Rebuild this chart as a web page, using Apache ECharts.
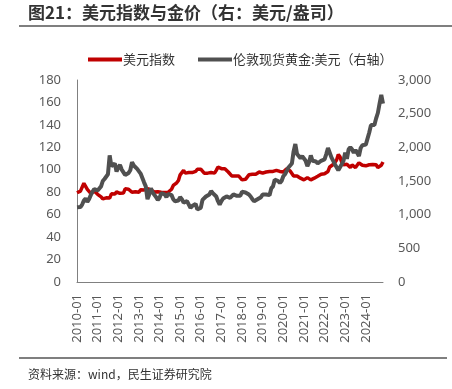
<!DOCTYPE html>
<html><head><meta charset="utf-8">
<script src="https://cdn.jsdelivr.net/npm/echarts@6/dist/echarts.min.js"></script>
<style>html,body{margin:0;padding:0;background:#fff}#c{width:452px;height:389px}</style>
</head><body><div id="c"></div>
<script>
const years = [2010,2011,2012,2013,2014,2015,2016,2017,2018,2019,2020,2021,2022,2023,2024];
const dxy = [
79.5,80.4,81.0,82.5,88.0,86.5,82.5,83.0,79.0,77.5,81.1,79.5,
78.1,76.9,75.9,74.0,75.0,75.0,74.5,74.8,78.6,77.0,78.4,80.2,
79.5,79.0,79.5,79.2,83.0,82.0,82.7,81.5,80.0,80.2,80.5,80.0,
80.0,82.1,83.0,82.0,83.4,83.1,81.8,82.1,80.5,80.2,80.7,80.5,
81.2,80.0,80.1,79.8,80.4,80.0,81.5,82.7,86.0,87.0,88.4,90.5,
95.5,96.5,99.5,97.0,98.5,97.5,98.5,97.5,97.5,98.5,100.5,100.0,
100.5,99.0,97.0,95.5,97.0,97.0,97.5,97.5,97.0,99.5,102.5,103.5,
101.0,102.0,101.0,100.0,98.0,96.5,94.5,94.0,94.5,95.5,94.5,93.5,
91.0,91.5,91.5,93.0,95.5,96.0,96.0,96.5,96.0,97.5,98.0,97.5,
97.0,97.0,98.0,98.5,98.5,97.0,98.5,99.0,99.5,98.0,98.5,97.5,
98.0,99.0,101.0,100.0,99.0,97.5,94.5,93.5,94.5,94.5,92.5,91.0,
91.0,91.0,93.0,92.0,91.0,92.4,92.5,93.0,94.2,94.5,96.0,96.0,
96.5,97.0,98.5,102.5,102.5,104.7,106.5,108.7,113.5,111.5,106.5,104.5,
103.0,104.9,103.5,102.0,104.3,103.0,102.0,103.6,106.2,106.5,104.0,102.5,
103.5,104.2,104.5,106.0,104.8,105.9,104.5,102.0,101.5,104.0,107.0
];
const gold = [
1110,1100,1113,1150,1210,1240,1190,1230,1290,1340,1380,1390,
1360,1380,1420,1500,1530,1520,1600,1880,1720,1700,1760,1640,
1700,1740,1670,1660,1590,1600,1620,1660,1780,1730,1720,1680,
1670,1610,1600,1480,1420,1230,1300,1390,1330,1320,1260,1220,
1250,1320,1330,1300,1260,1310,1310,1290,1230,1200,1180,1210,
1260,1230,1180,1200,1200,1180,1100,1130,1130,1160,1080,1065,
1100,1220,1240,1270,1250,1300,1350,1320,1320,1270,1200,1150,
1200,1240,1240,1270,1260,1250,1260,1300,1300,1280,1280,1280,
1340,1330,1330,1320,1300,1270,1230,1200,1200,1230,1220,1260,
1300,1320,1300,1280,1290,1390,1420,1520,1500,1500,1470,1500,
1570,1600,1590,1700,1720,1760,1940,2050,1900,1900,1840,1870,
1860,1800,1720,1780,1880,1800,1810,1790,1760,1780,1800,1800,
1820,1900,1990,1920,1850,1830,1750,1760,1660,1640,1750,1800,
1920,1830,1970,2000,1970,1920,1960,1920,1870,1990,2030,2050,
2040,2040,2220,2330,2340,2330,2430,2510,2650,2780,2650
];
const months = [];
for (const y of years) for (let m = 1; m <= 12; m++) {
  if (months.length < dxy.length) months.push(y + '-' + String(m).padStart(2,'0'));
}
const leftTicks = [0,20,40,60,80,100,120,140,160,180];
const rightTicks = [0,500,1000,1500,2000,2500,3000];
const chart = echarts.init(document.getElementById('c'));
const lab = '#595959';
chart.setOption({
  animation:false,
  textStyle:{fontFamily:'"Noto Sans CJK SC","Noto Sans",sans-serif'},
  graphic:[
    {type:'text',left:28,top:4,style:{text:'图21：美元指数与金价（右：美元/盎司）',font:'bold 17px "Noto Sans CJK SC"',fill:'#333'}},
    {type:'line',shape:{x1:19,y1:26,x2:452,y2:26},style:{stroke:'#555',lineWidth:1.5}},
    {type:'line',shape:{x1:19,y1:358,x2:447,y2:358},style:{stroke:'#555',lineWidth:1.5}},
    {type:'text',left:28,top:368,style:{text:'资料来源：wind，民生证券研究院',font:'12px "Noto Sans CJK SC"',fill:'#333'}}
  ],
  legend:{top:48,left:83,itemGap:23,itemWidth:34,itemHeight:4,icon:'rect',
    textStyle:{fontSize:13,color:'#333',fontFamily:'"Noto Sans CJK SC"',padding:[0,0,0,-4]},
    data:['美元指数','伦敦现货黄金:美元（右轴）']},
  grid:{left:77,right:69,top:80,bottom:107},
  xAxis:{type:'category',data:months,boundaryGap:false,
    axisLine:{lineStyle:{color:'#808080',width:1}},axisTick:{show:false},
    axisLabel:{interval:11,rotate:90,color:lab,fontSize:13,margin:12,fontFamily:'"Noto Sans","Noto Sans CJK SC"'}},
  yAxis:[
    {type:'value',min:0,max:180,interval:20,splitLine:{show:false},
     axisLine:{show:true,lineStyle:{color:'#808080'}},axisTick:{show:false},
     axisLabel:{color:lab,fontSize:13,margin:16,fontFamily:'"Noto Sans"'}},
    {type:'value',min:0,max:3000,interval:500,splitLine:{show:false},
     axisLine:{show:false},axisTick:{show:false},
     axisLabel:{color:lab,fontSize:13,margin:15,fontFamily:'"Noto Sans"',
       formatter:v=>v.toLocaleString('en-US')}}
  ],
  series:[
    {name:'美元指数',type:'line',data:dxy,yAxisIndex:0,showSymbol:false,
     lineStyle:{color:'#C00000',width:3.5},itemStyle:{color:'#C00000'}},
    {name:'伦敦现货黄金:美元（右轴）',type:'line',data:gold,yAxisIndex:1,showSymbol:false,
     lineStyle:{color:'#505050',width:4},itemStyle:{color:'#505050'}}
  ]
});
</script></body></html>
